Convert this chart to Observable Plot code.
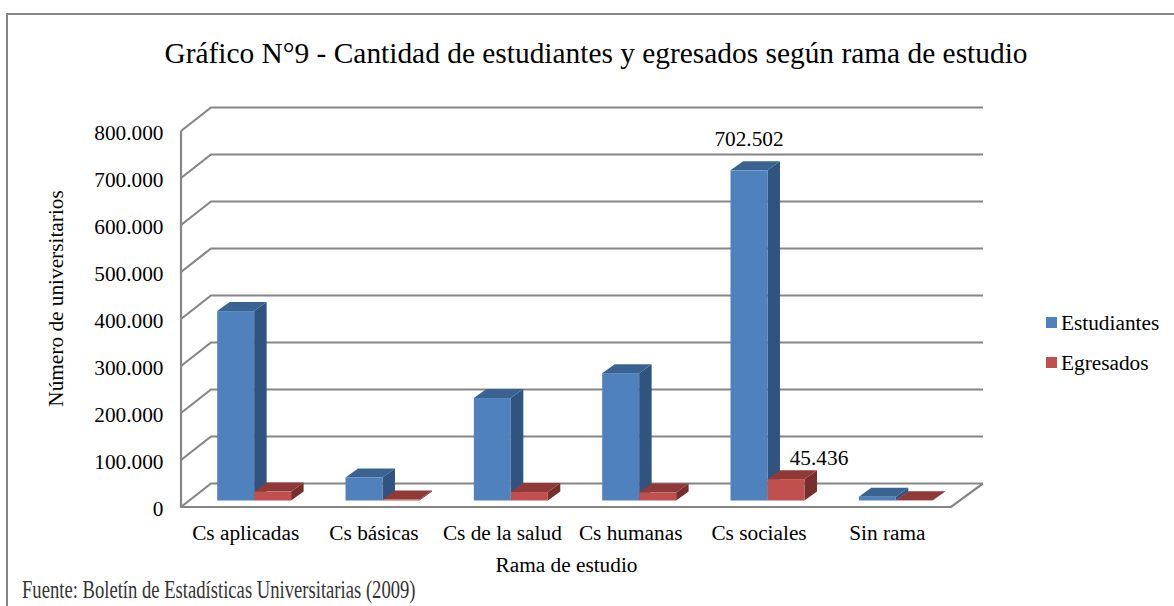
<!DOCTYPE html>
<html lang="es">
<head>
<meta charset="utf-8">
<script src="https://cdn.jsdelivr.net/npm/d3@7"></script>
<script src="https://cdn.jsdelivr.net/npm/@observablehq/plot@0.6"></script>
<style>
  html, body { margin: 0; padding: 0; background: #fff; }
  body { width: 1174px; height: 606px; position: relative; overflow: hidden; font-family: "Liberation Serif", serif; color: #000; }
  #frame { position: absolute; left: 6px; top: 13px; width: 1300px; height: 800px; border-left: 2px solid #868686; border-top: 2px solid #868686; }
  #title { position: relative; height: 90px; width: 1174px; box-sizing: border-box; padding-top: 36px; text-align: center; font-size: 29.4px; line-height: 34px; padding-left: 18px; white-space: nowrap; }
  #chart { position: relative; height: 486px; }
  #chart svg { display: block; overflow: visible; }
  #legend { position: absolute; left: 1046px; top: 310px; font-size: 21.3px; }
  .item { position: absolute; left: 0; white-space: nowrap; line-height: 24px; padding-left: 15px; }
  .item i { position: absolute; left: 0; top: 6px; width: 11px; height: 11px; }
  #source { position: absolute; left: 22px; top: 576px; font-size: 24.5px; line-height: 28px; white-space: nowrap; transform-origin: left center; transform: scaleX(0.76); color: #333; }
</style>
</head>
<body>
<div id="frame"></div>
<div id="title">Gráfico N°9 - Cantidad de estudiantes y egresados según rama de estudio</div>
<div id="chart"></div>
<div id="legend"></div>
<div id="source">Fuente: Boletín de Estadísticas Universitarias (2009)</div>
<script>
const categories = ["Cs aplicadas", "Cs básicas", "Cs de la salud", "Cs humanas", "Cs sociales", "Sin rama"];
const estudiantes = [403000, 49000, 218000, 271000, 702502, 8000];
const egresados = [19000, 2000, 18000, 17000, 45436, 500];
const yTicks = [0, 100000, 200000, 300000, 400000, 500000, 600000, 700000, 800000];
const labelled = [
  {category: "Cs sociales", value: 702502, series: "Estudiantes"},
  {category: "Cs sociales", value: 45436, series: "Egresados"}
];

const blue = {front: "#4F81BD", top: "#3B6391", side: "#30537F"};
const red = {front: "#C0504D", top: "#8F3A38", side: "#772F2D"};
const grey = "#868686";

const es = d3.formatLocale({decimal: ",", thousands: ".", grouping: [3], currency: ["", ""]}).format(",");

const paddingInner = 0.712;
const wall = {dx: 30, dy: -23.5, right: 32};
const box = {dx: 12.5, dy: -9};
const lift = -6.5;
const shift = {est: -9.5, egr: 27.5};

function walls(index, {x, y}, values, {width, marginLeft, marginRight}) {
  const g = d3.create("svg:g").attr("fill", "none").attr("stroke", grey).attr("stroke-width", 2.2);
  const x0 = marginLeft, x1 = width - marginRight;
  for (const t of yTicks) {
    const yy = y(t);
    g.append("path").attr("d", `M${x0},${yy}L${x0 + wall.dx},${yy + wall.dy}L${x1 + wall.right},${yy + wall.dy}`);
  }
  g.append("path").attr("d", `M${x0},${y(800000)}L${x0},${y(0)}L${x1},${y(0)}L${x1 + wall.right},${y(0) + wall.dy}`);
  return g.node();
}

function faces(vals, colors, off) {
  return (index, {x, y}, values, {width, marginLeft, marginRight}) => {
    const g = d3.create("svg:g");
    const w = (width - marginLeft - marginRight) / categories.length * (1 - paddingInner);
    categories.forEach((c, i) => {
      const l = x(c) + off;
      const r = l + w;
      const b = y(0) + lift;
      const t = y(vals[i]) + lift;
      g.append("path").attr("fill", colors.side)
        .attr("d", `M${r},${t}L${r + box.dx},${t + box.dy}L${r + box.dx},${b + box.dy}L${r},${b}Z`);
      g.append("path").attr("fill", colors.top)
        .attr("d", `M${l},${t}L${l + box.dx},${t + box.dy}L${r + box.dx},${t + box.dy}L${r},${t}Z`);
    });
    return g.node();
  };
}

const estRows = categories.map((c, i) => ({category: c, value: estudiantes[i]}));
const egrRows = categories.map((c, i) => ({category: c, value: egresados[i]}));

const plot = Plot.plot({
  width: 1174,
  height: 486,
  marginLeft: 181,
  marginRight: 223,
  marginTop: 41,
  marginBottom: 69,
  style: {fontFamily: "'Liberation Serif', serif", fontSize: "21.3px", color: "#000", background: "transparent", overflow: "visible"},
  x: {type: "band", domain: categories, paddingInner, paddingOuter: paddingInner / 2, round: false, label: null},
  y: {domain: [0, 800000], label: null},
  marks: [
    walls,
    Plot.axisY({ticks: yTicks, tickFormat: es, tickSize: 0, tickPadding: 18, dy: 2, label: null, fontSize: 21.3}),
    Plot.axisX({tickSize: 0, tickPadding: 17, label: null, fontSize: 21.3}),
    faces(estudiantes, blue, shift.est),
    Plot.barY(estRows, {x: "category", y: "value", dx: shift.est, dy: lift, fill: blue.front}),
    faces(egresados, red, shift.egr),
    Plot.barY(egrRows, {x: "category", y: "value", dx: shift.egr, dy: lift, fill: red.front}),
    Plot.text(labelled.filter(d => d.series === "Estudiantes"), {x: "category", y: "value", text: d => es(d.value), dx: -10, dy: -38, fontSize: 21.3}),
    Plot.text(labelled.filter(d => d.series === "Egresados"), {x: "category", y: "value", text: d => es(d.value), dx: 60, dy: -28, fontSize: 21.3}),
    Plot.text(["Número de universitarios"], {frameAnchor: "left", textAnchor: "middle", rotate: -90, dx: -125, dy: -21, fontSize: 21.3}),
    Plot.text(["Rama de estudio"], {frameAnchor: "bottom", dy: 64, fontSize: 21.3})
  ]
});
document.getElementById("chart").appendChild(plot);

const legend = d3.select("#legend");
[["Estudiantes", blue.front, 1], ["Egresados", red.front, 41]].forEach(([name, color, top]) => {
  const it = legend.append("div").attr("class", "item").style("top", top + "px");
  it.append("i").style("background", color);
  it.append("span").text(name);
});
</script>
</body>
</html>
